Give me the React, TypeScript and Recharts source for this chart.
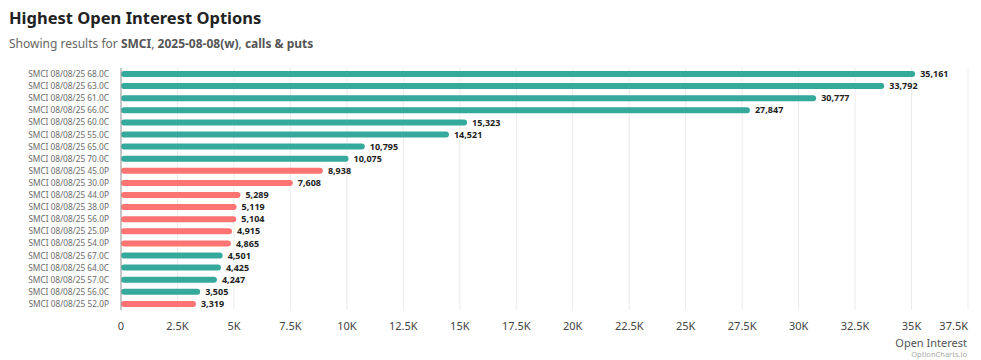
import { BarChart, Bar, XAxis, YAxis, CartesianGrid, Cell, LabelList } from "recharts";

const contracts = [
  "SMCI 08/08/25 68.0C",
  "SMCI 08/08/25 63.0C",
  "SMCI 08/08/25 61.0C",
  "SMCI 08/08/25 66.0C",
  "SMCI 08/08/25 60.0C",
  "SMCI 08/08/25 55.0C",
  "SMCI 08/08/25 65.0C",
  "SMCI 08/08/25 70.0C",
  "SMCI 08/08/25 45.0P",
  "SMCI 08/08/25 30.0P",
  "SMCI 08/08/25 44.0P",
  "SMCI 08/08/25 38.0P",
  "SMCI 08/08/25 56.0P",
  "SMCI 08/08/25 25.0P",
  "SMCI 08/08/25 54.0P",
  "SMCI 08/08/25 67.0C",
  "SMCI 08/08/25 64.0C",
  "SMCI 08/08/25 57.0C",
  "SMCI 08/08/25 56.0C",
  "SMCI 08/08/25 52.0P",
];

const openInterest = [
  35161, 33792, 30777, 27847, 15323, 14521, 10795, 10075, 8938, 7608, 5289, 5119,
  5104, 4915, 4865, 4501, 4425, 4247, 3505, 3319,
];

const xTicks = [
  0, 2500, 5000, 7500, 10000, 12500, 15000, 17500, 20000, 22500, 25000, 27500,
  30000, 32500, 35000, 37500,
];

const CALL_COLOR = "#35a99b";
const PUT_COLOR = "#fe7473";
const FONT = "'Noto Sans', 'Open Sans', sans-serif";

const rows = contracts.map((name, i) => ({ name, total: openInterest[i] }));

const fmtK = (v: number) => (v === 0 ? "0" : `${v / 1000}K`);

const XTick = (props: any) => {
  const { x, y, payload } = props;
  const last = payload.value === xTicks[xTicks.length - 1];
  return (
    <text
      x={x}
      y={y}
      dy={12}
      textAnchor={last ? "end" : "middle"}
      fill="#444"
      fontSize={11}
      fontFamily={FONT}
    >
      {fmtK(payload.value)}
    </text>
  );
};

const YTick = (props: any) => {
  const { x, y, payload } = props;
  return (
    <text
      x={x - 10}
      y={y}
      dy={3}
      textAnchor="end"
      fill="#6b6b6b"
      fontSize={8.3}
      fontFamily={FONT}
    >
      {payload.value}
    </text>
  );
};

export default function App() {
  return (
    <div
      style={{
        position: "absolute",
        left: 0,
        top: 0,
        width: 981,
        height: 360,
        background: "#fff",
        fontFamily: FONT,
      }}
    >
      <div
        style={{
          position: "absolute",
          left: 9,
          top: 6,
          fontSize: 16.5,
          fontWeight: 700,
          color: "#222",
        }}
      >
        Highest Open Interest Options
      </div>
      <div
        style={{ position: "absolute", left: 9, top: 35, fontSize: 12, color: "#666" }}
      >
        Showing results for <b style={{ color: "#555" }}>SMCI</b>,{" "}
        <b style={{ color: "#555" }}>2025-08-08(w)</b>,{" "}
        <b style={{ color: "#555" }}>calls &amp; puts</b>
      </div>
      <BarChart
        width={981}
        height={360}
        data={rows}
        layout="vertical"
        margin={{ top: 68, right: 13, bottom: 20, left: 0 }}
        barCategoryGap={3}
      >
        <CartesianGrid horizontal={false} stroke="#ececec" />
        <XAxis
          type="number"
          domain={[0, 37500]}
          ticks={xTicks}
          axisLine={false}
          tickLine={false}
          height={30}
          tick={<XTick />}
          interval={0}
        />
        <YAxis
          type="category"
          dataKey="name"
          width={121}
          interval={0}
          tickLine={false}
          tickSize={0}
          axisLine={{ stroke: "#999" }}
          tick={<YTick />}
        />
        <Bar
          dataKey="total"
          barSize={6}
          radius={3}
          isAnimationActive={false}
        >
          {rows.map((r) => (
            <Cell key={r.name} fill={r.name.endsWith("C") ? CALL_COLOR : PUT_COLOR} />
          ))}
          <LabelList
            dataKey="total"
            position="right"
            offset={5}
            formatter={(v: any) => Number(v).toLocaleString("en-US")}
            style={{ fontSize: 9, fontWeight: 700, fill: "#222", fontFamily: FONT }}
          />
        </Bar>
      </BarChart>
      <div
        style={{
          position: "absolute",
          right: 14,
          top: 335,
          fontSize: 11,
          color: "#555",
        }}
      >
        Open Interest
      </div>
      <div
        style={{
          position: "absolute",
          right: 14,
          top: 349,
          fontSize: 7.5,
          color: "#aaa",
        }}
      >
        OptionCharts.io
      </div>
    </div>
  );
}
